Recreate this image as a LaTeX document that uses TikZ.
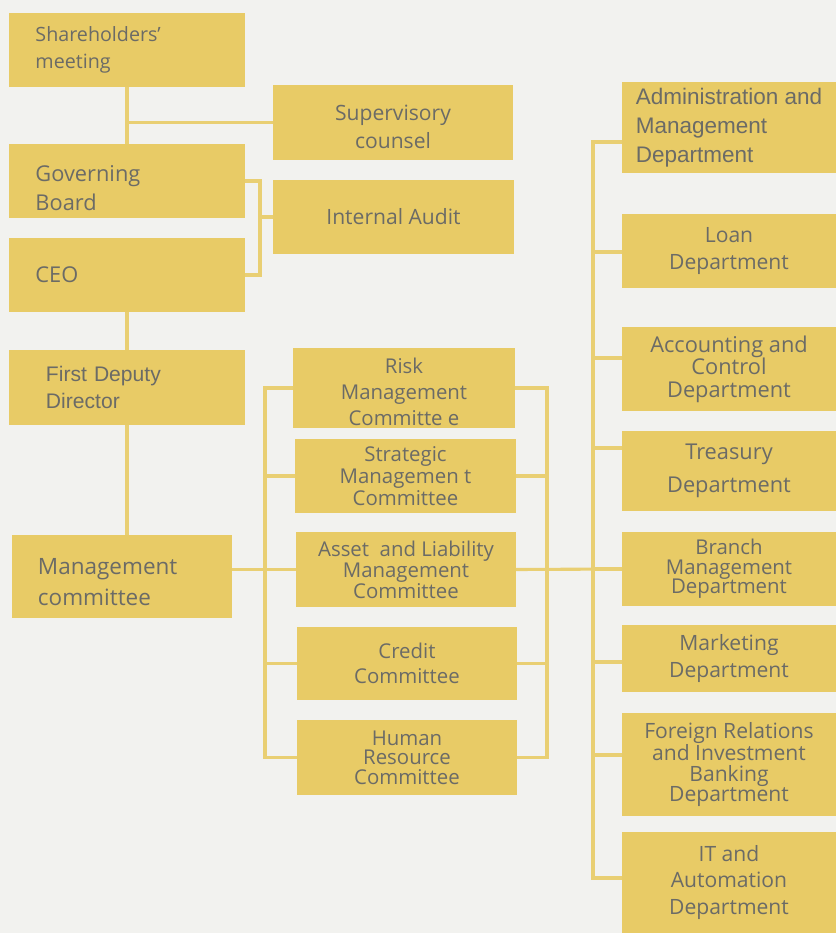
\documentclass[tikz,border=0pt]{standalone}
\usepackage{fontspec}
\setmainfont{Open Sans}
\newfontfamily\arialfont{Liberation Sans}
\usetikzlibrary{positioning, calc, backgrounds}
\definecolor{boxgold}{HTML}{E8CB66}
\definecolor{linegold}{HTML}{E9CF73}
\definecolor{inkgray}{HTML}{6B6B66}
\definecolor{paper}{HTML}{F2F2EF}
\tikzset{
  box/.style={fill=boxgold, text=inkgray, inner sep=0pt, align=center},
  wh/.style 2 args={minimum width=#1*0.025cm, minimum height=#2*0.025cm},
  lbox/.style={box, align=left, inner xsep=0.65cm, text width=#1},
  link/.style={draw=linegold, line width=2.2pt, line cap=rect},
}
\newcommand{\fsz}[2]{\fontsize{#1}{#2}\selectfont}

\begin{document}
\begin{tikzpicture}[x=0.025cm, y=-0.025cm]
    \useasboundingbox (0,0) rectangle (836,933);
    % left column
    \node[lbox=4.575cm, wh={235}{74}, font=\fsz{14}{19}] (share) at (127,50) {Shareholders’\\meeting};
    \node[lbox=4.575cm, wh={235}{74}, font=\fsz{15.5}{20.5}] (gov) at (127,181) {\rule{0pt}{22pt}Governing\\Board};
    \node[lbox=4.575cm, wh={235}{74}, font=\fsz{15.5}{20.5}] (ceo) at (127,275) {CEO};
    \node[lbox=4.05cm, inner xsep=0.925cm, wh={236}{75}, font=\arialfont\fsz{15}{19}] (fdd) at (127,387.5) {First Deputy\\Director};
    \node[lbox=4.2cm, wh={220}{83}, font=\fsz{16}{22}] (mgmt) at (122,576.5) {\rule{0pt}{19pt}Management\\committee};
    % supervision
    \node[box, wh={240}{75}, font=\fsz{15}{20}] (sup) at (393,122.5) {\rule{0pt}{17pt}Supervisory\\counsel};
    \node[box, wh={241}{74}, font=\fsz{15}{20}] (audit) at (393.5,217) {Internal Audit};
    % committees
    \node[box, wh={222}{80}, font=\fsz{14.5}{18.5}] (risk) at (404,388) {\rule{0pt}{17pt}Risk\\Management\\Committe e};
    \node[box, wh={221}{74}, font=\fsz{14.5}{15.5}] (strat) at (405.5,476) {Strategic\\Managemen t\\Committee};
    \node[box, wh={220}{75}, font=\fsz{14.5}{15}] (asset) at (406,569.5) {Asset\ \ and Liability\\Management\\Committee};
    \node[box, wh={220}{73}, font=\fsz{14.5}{18}] (credit) at (407,663.5) {Credit\\Committee};
    \node[box, wh={220}{75}, font=\fsz{14.5}{14}] (human) at (407,757.5) {Human\\Resource\\Committee};
    % departments
    \node[box, align=left, wh={214}{91}, font=\arialfont\fsz{16}{20.5}] (admin) at (729,127.5) {Administration and\\Management\\Department};
    \node[box, wh={214}{74}, font=\fsz{15}{19}] (loan) at (729,251) {Loan\\Department};
    \node[box, wh={214}{84}, font=\fsz{15.5}{16}] (acct) at (729,369) {Accounting and\\Control\\Department};
    \node[box, wh={214}{80}, font=\fsz{15.5}{23}] (treas) at (729,471) {Treasury\\Department};
    \node[box, wh={214}{74}, font=\fsz{14.5}{14}] (branch) at (729,569) {Branch\\Management\\Department};
    \node[box, wh={214}{67}, font=\fsz{15}{19}] (mkt) at (729,658.5) {Marketing\\Department};
    \node[box, wh={214}{103}, font=\fsz{15}{14.5}] (foreign) at (729,764.5) {Foreign Relations\\and Investment\\Banking\\Department};
    \node[box, wh={214}{101}, font=\fsz{15}{19}] (it) at (729,882.5) {IT and\\Automation\\Department};
    % buses
    \coordinate (gbus) at (260,0);
    \coordinate (lbus) at (265,0);
    \coordinate (rbus) at (547,0);
    \coordinate (dbus) at (593,0);
    \begin{scope}[on background layer]
      \fill[paper] (0,0) rectangle (836,933);
      \draw[link] (share.south) -- (gov.north);
      \draw[link] (sup.west) -- (sup.west -| share.south);
      \draw[link] (gov.east) -| (gbus |- ceo.east) -- (ceo.east);
      \draw[link] (audit.west) -- (audit.west -| gbus);
      \draw[link] (ceo.south) -- (fdd.north);
      \draw[link] (fdd.south) -- (fdd.south |- mgmt.north);
      \draw[link] (asset.west -| mgmt.east) -- (asset.west);
      \draw[link] (risk.west) -| (lbus |- human.west) -- (human.west);
      \draw[link] (risk.east) -| (rbus |- human.east) -- (human.east);
      \foreach \n in {strat, asset, credit} {
        \draw[link] (\n.west) -- (\n.west -| lbus);
        \draw[link] (\n.east) -- (\n.east -| rbus);
      }
      \draw[link] (asset.east) -- (branch.west);
      \foreach \n/\dy in {admin/14.5, loan/1, acct/-11, treas/-23, branch/0, mkt/3.5, foreign/-9.5, it/-4.5}
        \draw[link] ($(\n.west)+(0,\dy)$) -- ($(\n.west -| dbus)+(0,\dy)$);
      \draw[link] ($(admin.west -| dbus)+(0,14.5)$) -- ($(it.west -| dbus)+(0,-4.5)$);
    \end{scope}
\end{tikzpicture}
\end{document}
